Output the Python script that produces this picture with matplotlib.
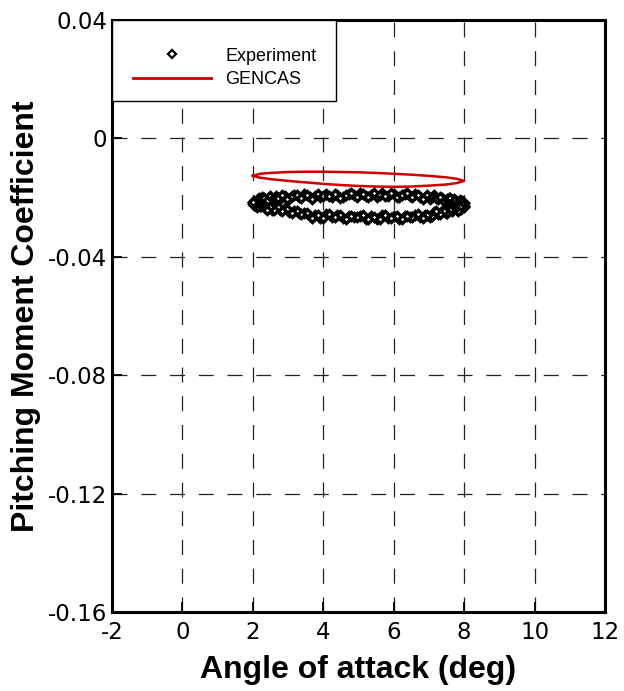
import matplotlib
matplotlib.use('Agg')
import matplotlib.pyplot as plt
from matplotlib.lines import Line2D
from matplotlib.patches import Rectangle

# ---- data ----
# experiment, cycle 1, alpha increasing
exp_up_alpha = [2.00, 2.02, 2.05, 2.09, 2.14, 2.20, 2.27, 2.35, 2.44, 2.54,
                2.65, 2.77, 2.90, 3.03, 3.17, 3.31, 3.46, 3.61, 3.76, 3.92,
                4.08, 4.24, 4.40, 4.56, 4.72, 4.88, 5.04, 5.20, 5.36, 5.52,
                5.68, 5.84, 6.00, 6.16, 6.31, 6.46, 6.61, 6.75, 6.89, 7.02,
                7.15, 7.27, 7.38, 7.48, 7.57, 7.65, 7.72, 7.79, 7.85, 7.90,
                7.94, 7.97, 7.99, 8.00]
exp_up_cm = [-0.0214, -0.0223, -0.0214, -0.0220, -0.0206, -0.0208, -0.0198, -0.0207, -0.0202, -0.0207,
             -0.0194, -0.0204, -0.0196, -0.0204, -0.0193, -0.0197, -0.0189, -0.0199, -0.0195, -0.0200,
             -0.0188, -0.0198, -0.0191, -0.0200, -0.0188, -0.0193, -0.0185, -0.0196, -0.0191, -0.0197,
             -0.0185, -0.0196, -0.0189, -0.0198, -0.0188, -0.0194, -0.0187, -0.0199, -0.0197, -0.0204,
             -0.0193, -0.0206, -0.0201, -0.0212, -0.0203, -0.0210, -0.0204, -0.0217, -0.0215, -0.0223,
             -0.0213, -0.0226, -0.0220, -0.0230]

# experiment, cycle 1, alpha decreasing
exp_dn_alpha = [8.00, 7.99, 7.97, 7.94, 7.90, 7.85, 7.79, 7.72, 7.65, 7.57,
                7.48, 7.38, 7.27, 7.15, 7.02, 6.89, 6.75, 6.61, 6.46, 6.31,
                6.16, 6.00, 5.84, 5.68, 5.52, 5.36, 5.20, 5.04, 4.88, 4.72,
                4.56, 4.40, 4.24, 4.08, 3.92, 3.76, 3.61, 3.46, 3.31, 3.17,
                3.03, 2.90, 2.77, 2.65, 2.54, 2.44, 2.35, 2.27, 2.20, 2.14,
                2.09, 2.05, 2.02, 2.00]
exp_dn_cm = [-0.0229, -0.0220, -0.0230, -0.0223, -0.0238, -0.0232, -0.0243, -0.0236, -0.0244, -0.0242,
             -0.0252, -0.0245, -0.0255, -0.0249, -0.0265, -0.0258, -0.0267, -0.0259, -0.0266, -0.0262,
             -0.0271, -0.0261, -0.0269, -0.0260, -0.0273, -0.0263, -0.0271, -0.0261, -0.0267, -0.0261,
             -0.0269, -0.0259, -0.0266, -0.0257, -0.0269, -0.0258, -0.0264, -0.0251, -0.0253, -0.0244,
             -0.0249, -0.0236, -0.0242, -0.0231, -0.0242, -0.0231, -0.0237, -0.0225, -0.0229, -0.0222,
             -0.0228, -0.0217, -0.0226, -0.0216]

# experiment, cycle 2, alpha increasing
exp_up2_alpha = [2.01, 2.03, 2.07, 2.11, 2.17, 2.23, 2.31, 2.39, 2.49, 2.59,
                 2.71, 2.83, 2.96, 3.10, 3.24, 3.38, 3.53, 3.68, 3.84, 4.00,
                 4.16, 4.32, 4.48, 4.64, 4.80, 4.96, 5.12, 5.28, 5.44, 5.60,
                 5.76, 5.92, 6.08, 6.23, 6.38, 6.53, 6.68, 6.82, 6.95, 7.08,
                 7.21, 7.32, 7.43, 7.52, 7.61, 7.68, 7.75, 7.82, 7.87, 7.92,
                 7.95, 7.98, 8.00]
exp_up2_cm = [-0.0222, -0.0212, -0.0222, -0.0211, -0.0202, -0.0211, -0.0201, -0.0212, -0.0194, -0.0202,
              -0.0202, -0.0193, -0.0206, -0.0196, -0.0190, -0.0201, -0.0192, -0.0204, -0.0187, -0.0196,
              -0.0196, -0.0188, -0.0201, -0.0191, -0.0186, -0.0197, -0.0189, -0.0200, -0.0184, -0.0193,
              -0.0194, -0.0186, -0.0199, -0.0190, -0.0186, -0.0198, -0.0191, -0.0205, -0.0190, -0.0200,
              -0.0203, -0.0197, -0.0212, -0.0205, -0.0202, -0.0215, -0.0209, -0.0223, -0.0209, -0.0220,
              -0.0223, -0.0216, -0.0231]

# experiment, cycle 2, alpha decreasing
exp_dn2_alpha = [8.00, 7.98, 7.95, 7.92, 7.87, 7.82, 7.75, 7.68, 7.61, 7.52,
                 7.43, 7.32, 7.21, 7.08, 6.95, 6.82, 6.68, 6.53, 6.38, 6.23,
                 6.08, 5.92, 5.76, 5.60, 5.44, 5.28, 5.12, 4.96, 4.80, 4.64,
                 4.48, 4.32, 4.16, 4.00, 3.84, 3.68, 3.53, 3.38, 3.24, 3.10,
                 2.96, 2.83, 2.71, 2.59, 2.49, 2.39, 2.31, 2.23, 2.17, 2.11,
                 2.07, 2.03, 2.01]
exp_dn2_cm = [-0.0220, -0.0230, -0.0221, -0.0237, -0.0232, -0.0245, -0.0234, -0.0243, -0.0241, -0.0254,
              -0.0244, -0.0255, -0.0246, -0.0263, -0.0258, -0.0269, -0.0257, -0.0265, -0.0261, -0.0273,
              -0.0262, -0.0270, -0.0259, -0.0273, -0.0265, -0.0274, -0.0260, -0.0267, -0.0262, -0.0272,
              -0.0260, -0.0267, -0.0256, -0.0270, -0.0260, -0.0268, -0.0251, -0.0255, -0.0246, -0.0253,
              -0.0238, -0.0244, -0.0231, -0.0243, -0.0233, -0.0241, -0.0225, -0.0230, -0.0223, -0.0232,
              -0.0219, -0.0225, -0.0214]

# GENCAS loop
gencas_alpha = [2.0, 2.2, 2.5, 3.0, 3.5, 4.0, 4.5, 5.0, 5.5, 6.0, 6.5, 7.0, 7.5, 7.8, 8.0,
                7.8, 7.5, 7.0, 6.5, 6.0, 5.5, 5.0, 4.5, 4.0, 3.5, 3.0, 2.5, 2.2, 2.0]
gencas_cm = [-0.0127, -0.0120, -0.0117, -0.0114, -0.0113, -0.0113, -0.0114, -0.0115, -0.0117,
             -0.0120, -0.0123, -0.0127, -0.0132, -0.0137, -0.0144,
             -0.0151, -0.0156, -0.0160, -0.0163, -0.0164, -0.0163, -0.0161, -0.0158, -0.0154,
             -0.0149, -0.0144, -0.0138, -0.0133, -0.0127]

xticks = [-2, 0, 2, 4, 6, 8, 10, 12]
yticks = [0.04, 0, -0.04, -0.08, -0.12, -0.16]
ytick_labels = ['0.04', '0', '-0.04', '-0.08', '-0.12', '-0.16']

plt.rcParams['font.family'] = ['Liberation Sans', 'DejaVu Sans']
plt.rcParams['axes.unicode_minus'] = False

fig = plt.figure(figsize=(6.24, 6.91), dpi=100)
ax = fig.add_axes([0.1795, 0.1143, 0.790, 0.857])

exp_style = dict(linestyle='none', marker='D', markersize=3.8, markerfacecolor='white',
                 markeredgecolor='black', markeredgewidth=2.4, zorder=3)
ax.plot(exp_up_alpha, exp_up_cm, **exp_style)
ax.plot(exp_dn_alpha, exp_dn_cm, **exp_style)
ax.plot(exp_up2_alpha, exp_up2_cm, **exp_style)
ax.plot(exp_dn2_alpha, exp_dn2_cm, **exp_style)
ax.plot(gencas_alpha, gencas_cm, color='#cc0000', linewidth=1.8, zorder=4)

ax.set_xlim(-2, 12)
ax.set_ylim(-0.16, 0.04)
ax.set_xticks(xticks)
ax.set_yticks(yticks)
ax.set_yticklabels(ytick_labels)

ax.grid(True, color='#222222', linewidth=0.9, linestyle=(0, (12, 11)))
ax.tick_params(direction='in', length=7, width=1.3, labelsize=16.5, pad=3.5)
ax.tick_params(axis='x', pad=6.5)
for lab in ax.get_xticklabels() + ax.get_yticklabels():
    lab.set_family('DejaVu Sans')
for sp in ax.spines.values():
    sp.set_linewidth(2.2)

ax.set_xlabel('Angle of attack (deg)', fontsize=23, fontweight='bold', va='top')
ax.set_ylabel('Pitching Moment Coefficient', fontsize=23, fontweight='bold')
ax.xaxis.set_label_coords(0.5, -0.072)
ax.yaxis.set_label_coords(-0.144, 0.5)

# legend box in the upper left corner
ax.add_patch(Rectangle((0, 0.863), 0.454, 0.137, transform=ax.transAxes,
                       facecolor='white', edgecolor='black', linewidth=1.0, zorder=5))
handles = [Line2D([], [], linestyle='none', marker='D', markersize=4.2,
                  markerfacecolor='white', markeredgecolor='black', markeredgewidth=1.6),
           Line2D([], [], color='#cc0000', linewidth=2)]
leg = ax.legend(handles, ['Experiment', 'GENCAS'], loc='center',
                bbox_to_anchor=(0.229, 0.919), frameon=False,
                prop={'size': 13}, handlelength=4.3, handletextpad=0.8,
                labelspacing=0.35, borderpad=0, borderaxespad=0)
leg.set_zorder(6)

fig.savefig('out.png', dpi=100)
